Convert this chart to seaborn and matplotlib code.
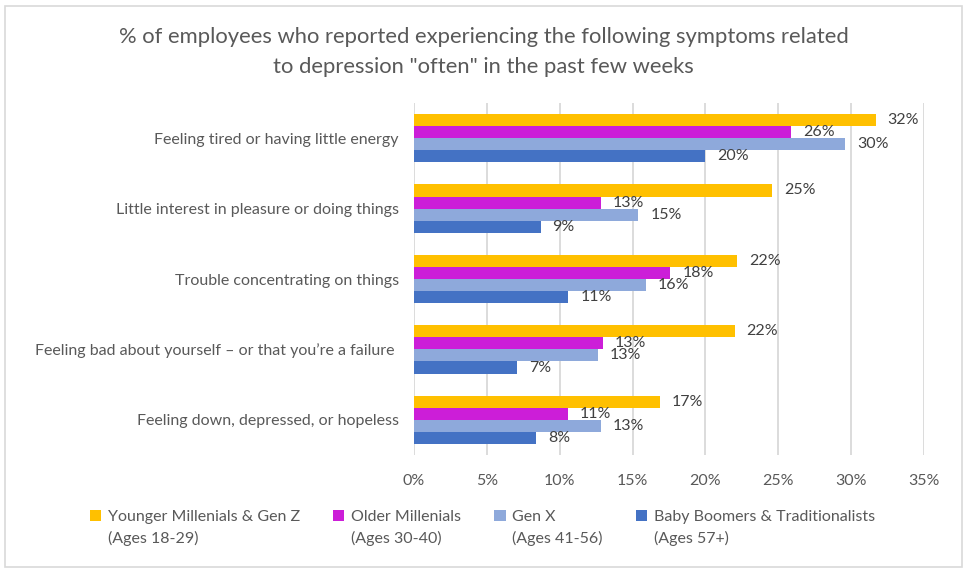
import matplotlib
matplotlib.use("Agg")
import matplotlib.pyplot as plt
import seaborn as sns
import pandas as pd
from matplotlib.patches import Rectangle
from matplotlib.legend_handler import HandlerPatch

# ---- data ----
symptoms = [
    "Feeling tired or having little energy",
    "Little interest in pleasure or doing things",
    "Trouble concentrating on things",
    "Feeling bad about yourself \u2013 or that you\u2019re a failure ",
    "Feeling down, depressed, or hopeless",
]
groups = [
    "Younger Millenials & Gen Z\n(Ages 18-29)",
    "Older Millenials\n(Ages 30-40)",
    "Gen X\n(Ages 41-56)",
    "Baby Boomers & Traditionalists\n(Ages 57+)",
]
younger = [31.7, 24.6, 22.2, 22.0, 16.9]
older = [25.9, 12.8, 17.6, 12.95, 10.55]
genx = [29.6, 15.4, 15.9, 12.6, 12.8]
boomers = [20.0, 8.7, 10.6, 7.1, 8.4]
labels_younger = ["32%", "25%", "22%", "22%", "17%"]
labels_older = ["26%", "13%", "18%", "13%", "11%"]
labels_genx = ["30%", "15%", "16%", "13%", "13%"]
labels_boomers = ["20%", "9%", "11%", "7%", "8%"]
xticks = [0, 5, 10, 15, 20, 25, 30, 35]
xtick_labels = ["0%", "5%", "10%", "15%", "20%", "25%", "30%", "35%"]
title = '% of employees who reported experiencing the following symptoms related\nto depression "often" in the past few weeks'

colors = ["#FFC000", "#CC1ED8", "#8EA9DB", "#4472C4"]

series = [younger, older, genx, boomers]
label_sets = [labels_younger, labels_older, labels_genx, labels_boomers]

rows = []
for g, vals in zip(groups, series):
    for s, v in zip(symptoms, vals):
        rows.append({"symptom": s, "value": v, "group": g})
df = pd.DataFrame(rows)

sns.set_theme(style="white")
plt.rcParams["font.family"] = ["Lato", "DejaVu Sans"]

FS = 11.5

fig = plt.figure(figsize=(9.67, 5.73), dpi=100)
ax = fig.add_axes([414 / 967, 1 - 455 / 573, (924 - 414) / 967, (455 - 103) / 573])

sns.barplot(
    data=df, y="symptom", x="value", hue="group", order=symptoms,
    hue_order=groups, palette=colors, orient="h", width=0.686,
    linewidth=0, saturation=1, ax=ax, errorbar=None,
)

for cont, labs in zip(ax.containers, label_sets):
    ax.bar_label(cont, labels=labs, padding=8.5, fontsize=FS, color="#404040")

ax.set_xlim(0, 35)
ax.set_ylim(len(symptoms) - 0.5, -0.5)
ax.set_xticks(xticks)
ax.set_xticklabels(xtick_labels)
ax.set_xlabel("")
ax.set_ylabel("")
ax.tick_params(axis="x", length=0, pad=14, labelsize=FS, labelcolor="#595959")
ax.tick_params(axis="y", length=0, pad=11, labelsize=FS, labelcolor="#595959")
ax.xaxis.grid(True, color="#D9D9D9", linewidth=1.3)
ax.yaxis.grid(False)
ax.set_axisbelow(True)
for sp in ax.spines.values():
    sp.set_visible(False)

ax.legend_.remove()


def top_square(legend, orig_handle, xdescent, ydescent, width, height, fontsize):
    return Rectangle((-xdescent, -ydescent + 0.78 * fontsize), width, height)


handles = [Rectangle((0, 0), 1, 1, facecolor=c, edgecolor="none") for c in colors]
leg = fig.legend(
    handles, groups, loc="upper left", bbox_to_anchor=(90 / 967, 1 - 510 / 573),
    ncol=4, frameon=False, fontsize=FS, labelcolor="#595959",
    handlelength=0.7, handleheight=0.7, handletextpad=0.4,
    columnspacing=2.1, borderaxespad=0, borderpad=0,
    handler_map={Rectangle: HandlerPatch(patch_func=top_square)},
)
for t in leg.get_texts():
    t.set_linespacing(1.6)

fig.text(0.5, 1 - 52 / 573, title, ha="center", va="center", fontsize=15.8,
         color="#595959", linespacing=1.6)

fig.patches.append(Rectangle((5 / 967, 6 / 573), 957 / 967, 561 / 573,
                             transform=fig.transFigure, fill=False,
                             edgecolor="#D9D9D9", linewidth=1.2))

fig.savefig("out.png", dpi=100, facecolor="white")
